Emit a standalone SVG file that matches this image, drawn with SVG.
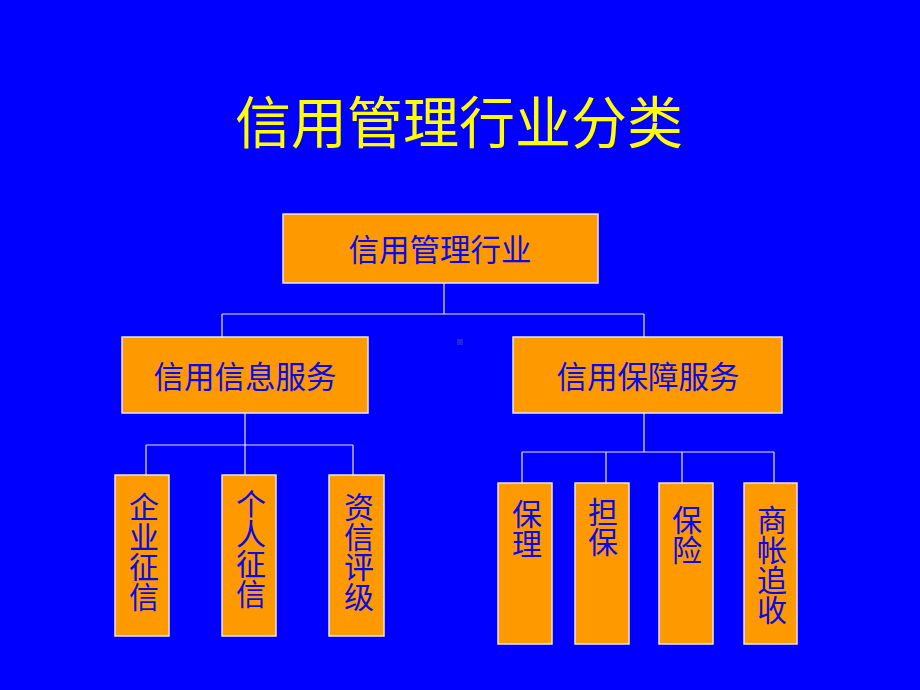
<svg xmlns="http://www.w3.org/2000/svg" width="920" height="690" viewBox="0 0 920 690">
<style>
.box{fill:#FF9900;stroke:#E6E6EE;stroke-width:1.5}
.t{font-family:"Noto Sans CJK SC","Noto Sans CJK TC",sans-serif;fill:#0A0AE6;font-size:30.5px;text-anchor:middle;dominant-baseline:central}
.v{writing-mode:vertical-rl;font-size:30px}
.title{font-family:"Noto Sans CJK SC","Noto Sans CJK TC",sans-serif;fill:#FFFF00;font-size:56px;text-anchor:middle;dominant-baseline:central}
.c{stroke:#E6E6F0;stroke-width:1.2;fill:none}
</style>
<rect width="920" height="690" fill="#0000FF"/>
<text class="title" x="459" y="118">信用管理行业分类</text>
<g id="connectors">
<path class="c" d="M444 283V314M222 314H644M222 314V337M644 314V337"/>
<path class="c" d="M245 413V445M146 445H353M146 445V475M245 445V475M353 445V475"/>
<path class="c" d="M644 413V452M522 452H774M522 452V483M606 452V483M682 452V483M774 452V483"/>
</g>
<rect x="457" y="339" width="6" height="6" fill="#2424D8"/>
<g id="root"><rect class="box" x="283" y="214" width="315" height="69"/><text class="t" x="440" y="248">信用管理行业</text></g>
<g id="info"><rect class="box" x="122" y="337" width="246" height="76"/><text class="t" x="245" y="375">信用信息服务</text></g>
<g id="guarantee"><rect class="box" x="513" y="337" width="269" height="76"/><text class="t" x="648" y="375">信用保障服务</text></g>
<g id="qiye"><rect class="box" x="115" y="475" width="54" height="161"/><text class="t v" x="144" y="552">企业征信</text></g>
<g id="geren"><rect class="box" x="222" y="475" width="54" height="161"/><text class="t v" x="251" y="549">个人征信</text></g>
<g id="zixin"><rect class="box" x="329" y="475" width="55" height="161"/><text class="t v" x="359" y="552">资信评级</text></g>
<g id="baoli"><rect class="box" x="498" y="483" width="54" height="161"/><text class="t v" x="527" y="529">保理</text></g>
<g id="danbao"><rect class="box" x="575" y="483" width="54" height="161"/><text class="t v" x="603" y="527">担保</text></g>
<g id="baoxian"><rect class="box" x="659" y="483" width="54" height="161"/><text class="t v" x="687" y="535">保险</text></g>
<g id="shangzhang"><rect class="box" x="744" y="483" width="53" height="161"/><text class="t v" x="772" y="565">商帐追收</text></g>
</svg>
